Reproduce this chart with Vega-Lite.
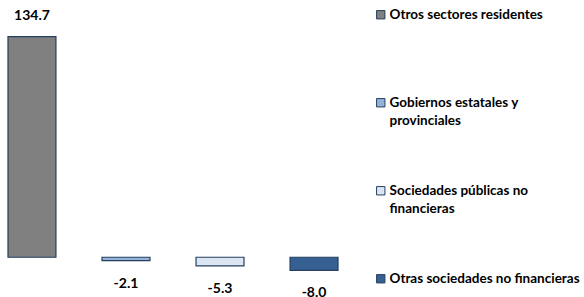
{
  "$schema": "https://vega.github.io/schema/vega-lite/v6.json",
  "width": 346,
  "height": 262,
  "autosize": "none",
  "padding": {"left": 0, "top": 28, "right": 238, "bottom": 7},
  "background": "white",
  "config": {"view": {"stroke": null}, "font": "Lato", "style": {"guide-label": {"lineHeight": 18}}},
  "data": {"values": [
    {"sector": "Otros sectores residentes", "value": 134.7, "label": "134.7"},
    {"sector": "Gobiernos estatales y provinciales", "value": -2.1, "label": "-2.1"},
    {"sector": "Sociedades públicas no financieras", "value": -5.3, "label": "-5.3"},
    {"sector": "Otras sociedades no financieras", "value": -8.0, "label": "-8.0"}
  ]},
  "encoding": {
    "x": {"field": "sector", "type": "nominal", "sort": null, "axis": null,
          "scale": {"paddingInner": 0.49, "paddingOuter": 0.085}},
    "y": {"field": "value", "type": "quantitative", "axis": null,
          "scale": {"domain": [-20, 140], "nice": false, "zero": true}}
  },
  "layer": [
    {
      "mark": {"type": "bar", "stroke": "#243F60", "strokeWidth": 1.2},
      "encoding": {
        "color": {"field": "sector", "type": "nominal", "sort": null,
          "scale": {"domain": ["Otros sectores residentes", "Gobiernos estatales y provinciales", "Sociedades públicas no financieras", "Otras sociedades no financieras"],
                    "range": ["#808080", "#95B3D7", "#DCE6F2", "#376092"]},
          "legend": {
            "title": null, "orient": "none", "legendX": 374, "legendY": -20,
            "direction": "vertical",
            "symbolType": "square", "symbolSize": 70, "symbolStrokeColor": "#243F60", "symbolStrokeWidth": 1,
            "symbolOpacity": 1,
            "labelFont": "Lato", "labelFontWeight": "bold", "labelFontSize": 13.5, "labelColor": "#000000",
            "labelLimit": 300, "labelOffset": 2, "rowPadding": 55,
            "labelExpr": "datum.label == 'Gobiernos estatales y provinciales' ? ['Gobiernos estatales y', 'provinciales'] : datum.label == 'Sociedades públicas no financieras' ? ['Sociedades públicas no', 'financieras'] : [datum.label, ' ']"
          }}
      }
    },
    {
      "transform": [{"filter": "datum.value > 0"}],
      "mark": {"type": "text", "font": "Lato", "fontWeight": "bold", "fontSize": 14, "color": "#000000", "baseline": "bottom", "dy": -14},
      "encoding": {"text": {"field": "label"}}
    },
    {
      "transform": [{"filter": "datum.value < 0"}],
      "mark": {"type": "text", "font": "Lato", "fontWeight": "bold", "fontSize": 14, "color": "#000000", "baseline": "top", "dy": 16},
      "encoding": {"text": {"field": "label"}}
    }
  ]
}
